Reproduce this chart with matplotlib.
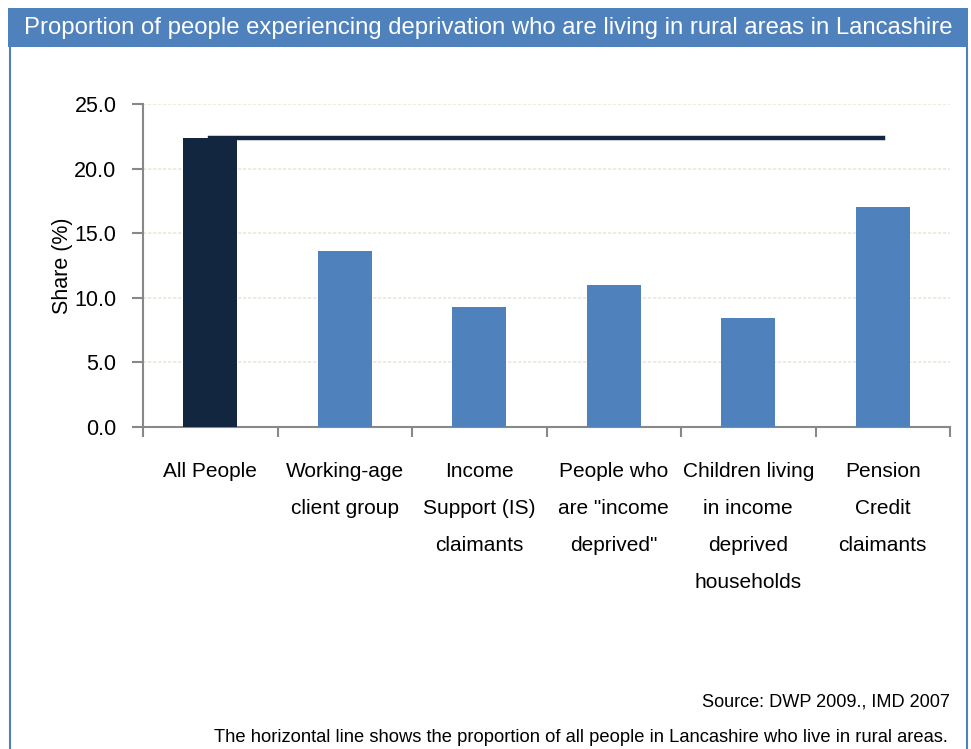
import matplotlib.pyplot as plt
from matplotlib.patches import Rectangle
from matplotlib.lines import Line2D

plt.rcParams['font.family'] = ['Liberation Sans', 'DejaVu Sans']

categories = ['All People', 'Working-age\nclient group', 'Income\nSupport (IS)\nclaimants',
              'People who\nare "income\ndeprived"', 'Children living\nin income\ndeprived\nhouseholds',
              'Pension\nCredit\nclaimants']
shares = [22.4, 13.6, 9.3, 11.0, 8.4, 17.0]
rural_share = 22.4
bar_colors = ['#13263F', '#4F81BD', '#4F81BD', '#4F81BD', '#4F81BD', '#4F81BD']

fig = plt.figure(figsize=(9.71, 7.49), dpi=100)

# header bar and side border
fig.add_artist(Rectangle((8/971, 1-47/749), 960/971, 39/749, transform=fig.transFigure,
                         facecolor='#4F81BD', edgecolor='none'))
for x in (9.5/971, 966.5/971):
    fig.add_artist(Line2D([x, x], [0, 1-47/749], transform=fig.transFigure, color='#4F81BD', lw=1.5))
fig.text(488/971, 1-28/749, 'Proportion of people experiencing deprivation who are living in rural areas in Lancashire',
         color='white', fontsize=17.2, ha='center', va='center')

ax = fig.add_axes([143/971, 1-427/749, 807/971, 323/749])
x = list(range(len(categories)))
ax.bar(x, shares, width=0.4, color=bar_colors, zorder=3)
ax.plot([x[0], x[-1]], [rural_share, rural_share], color='#13263F', lw=3.2, zorder=4)

ax.set_xlim(-0.5, len(categories) - 0.5)
ax.set_ylim(0, 25)
ax.set_yticks([0, 5, 10, 15, 20, 25])
ax.set_yticklabels([f'{v:.1f}' for v in [0, 5, 10, 15, 20, 25]], fontsize=15.5)
ax.set_xticks(x)
ax.set_xticklabels(categories, fontsize=15, linespacing=2.2, va='top')
ax.tick_params(axis='x', length=0, pad=25)
ax.set_xticks([i - 0.5 for i in range(len(categories) + 1)], minor=True)
ax.tick_params(axis='x', which='minor', length=7, color='#888888', width=1.5)
ax.tick_params(axis='y', length=8, color='#888888', width=1.5, pad=11)
ax.grid(axis='y', color='#EDE8D8', linestyle=(0, (2, 1)), lw=1.2, zorder=0)
ax.set_ylabel('Share (%)', fontsize=15.5, labelpad=1)
for side in ('top', 'right'):
    ax.spines[side].set_visible(False)
for side in ('left', 'bottom'):
    ax.spines[side].set_color('#888888')
    ax.spines[side].set_linewidth(1.5)

fig.text(950/971, 1-702/749, 'Source: DWP 2009., IMD 2007', fontsize=13.1, ha='right', va='center')
fig.text(948/971, 1-738/749, 'The horizontal line shows the proportion of all people in Lancashire who live in rural areas.',
         fontsize=13.2, ha='right', va='center')

fig.savefig('out.png', dpi=100)
